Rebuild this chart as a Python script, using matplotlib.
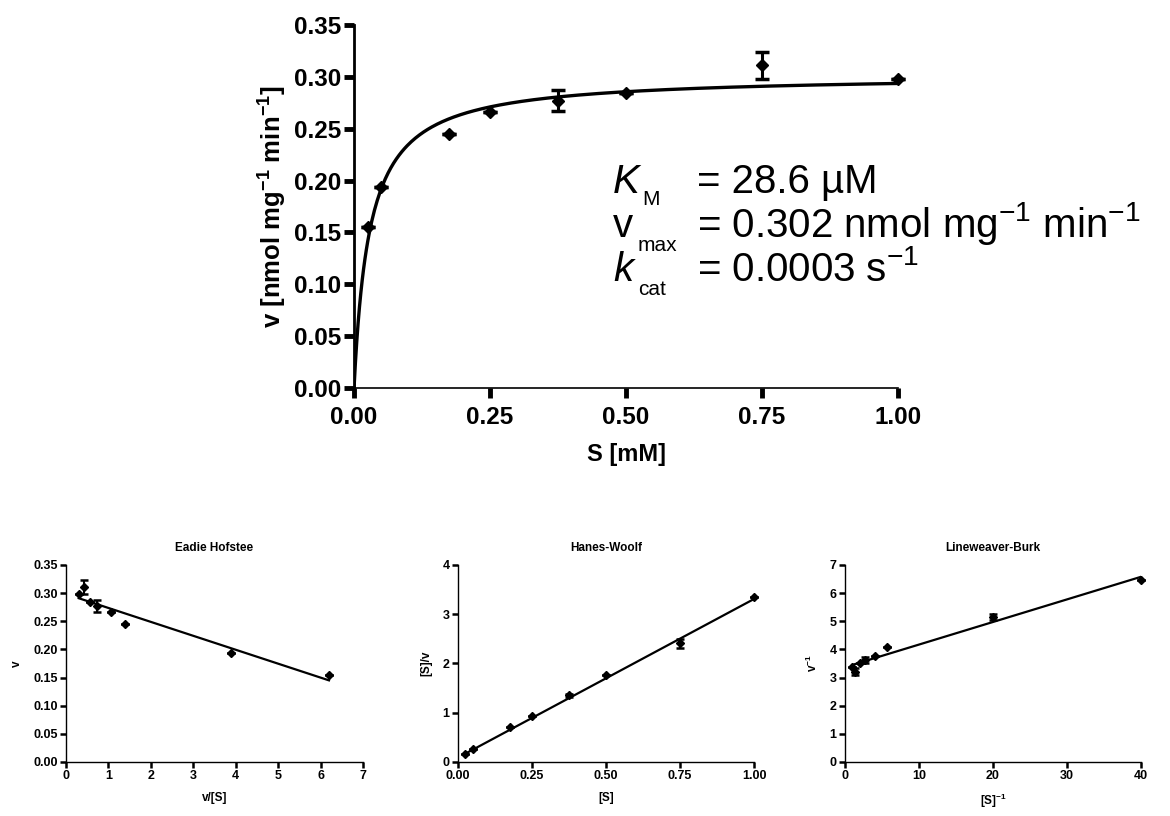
import numpy as np
import matplotlib
matplotlib.use("Agg")
import matplotlib.pyplot as plt

plt.rcParams["font.family"] = ["Liberation Sans", "DejaVu Sans"]
plt.rcParams["mathtext.fontset"] = "custom"
plt.rcParams["mathtext.rm"] = "Liberation Sans"
plt.rcParams["mathtext.it"] = "Liberation Sans:italic"
plt.rcParams["mathtext.bf"] = "Liberation Sans:bold"

# ---- Michaelis-Menten data ----
s_mM = [0.025, 0.05, 0.175, 0.25, 0.375, 0.5, 0.75, 1.0]
v_rate = [0.155, 0.194, 0.245, 0.266, 0.277, 0.284, 0.311, 0.298]
v_err = [0, 0, 0, 0, 0.010, 0, 0.013, 0]
km_mM = 0.0286
vmax = 0.302

# ---- Eadie Hofstee ----
eh_x = [6.2, 3.88, 1.40, 1.06, 0.74, 0.57, 0.415, 0.30]
eh_y = [0.155, 0.194, 0.245, 0.266, 0.277, 0.284, 0.311, 0.298]
eh_err = [0, 0, 0, 0, 0.010, 0, 0.013, 0]
eh_fit_x = [0.30, 6.2]
eh_fit_y = [0.291, 0.145]

# ---- Hanes-Woolf ----
hw_x = [0.025, 0.05, 0.175, 0.25, 0.375, 0.5, 0.75, 1.0]
hw_y = [0.16, 0.26, 0.71, 0.94, 1.35, 1.76, 2.41, 3.36]
hw_err = [0, 0, 0, 0, 0.04, 0, 0.09, 0]
hw_fit_x = [0.025, 1.0]
hw_fit_y = [0.17, 3.31]

# ---- Lineweaver-Burk ----
lb_x = [40, 20, 5.71, 4, 2.67, 2, 1.33, 1]
lb_y = [6.47, 5.15, 4.08, 3.76, 3.62, 3.52, 3.21, 3.36]
lb_err = [0, 0.12, 0, 0, 0.12, 0, 0.12, 0]
lb_fit_x = [1, 40]
lb_fit_y = [3.45, 6.58]

fig = plt.figure(figsize=(11.7, 8.16), dpi=100)

# ===================== main plot =====================
ax = fig.add_axes([0.3026, 0.5245, 0.465, 0.4449])
s_fit = np.linspace(0, 1.0, 400)
ax.plot(s_fit, vmax * s_fit / (km_mM + s_fit), color="black", lw=2.4, zorder=2)
ax.errorbar(s_mM, v_rate, yerr=v_err, fmt="D", color="black", ms=6.3,
            capsize=5, elinewidth=2.2, capthick=2.5, zorder=3, clip_on=False)
ax.set_xlim(0, 1.0)
ax.set_ylim(0, 0.35)
ax.set_xticks([0, 0.25, 0.5, 0.75, 1.0])
ax.set_yticks(np.arange(0, 0.36, 0.05))
ax.xaxis.set_major_formatter(matplotlib.ticker.FormatStrFormatter("%.2f"))
ax.yaxis.set_major_formatter(matplotlib.ticker.FormatStrFormatter("%.2f"))
for sp in ["top", "right"]:
    ax.spines[sp].set_visible(False)
ax.spines["left"].set_linewidth(2.0)
ax.spines["bottom"].set_linewidth(1.2)
ax.tick_params(axis="both", length=7, width=3.5, labelsize=17.5)
ax.tick_params(axis="x", pad=6)
ax.tick_params(axis="y", pad=2)
for lab in ax.get_xticklabels() + ax.get_yticklabels():
    lab.set_fontweight("bold")
ax.set_xlabel("S [mM]", fontsize=17, fontweight="bold", labelpad=10)
ax.set_ylabel(r"v [nmol mg$^{\mathbf{-1}}$ min$^{\mathbf{-1}}$]", fontsize=18.5,
              fontweight="bold", labelpad=4)

# kinetic constants: symbol, subscript, value
big = dict(transform=fig.transFigure, fontsize=29, va="baseline", ha="left")
sub = dict(transform=fig.transFigure, fontsize=15, va="baseline", ha="left")
rows_y = [0.763, 0.709, 0.656]
fig.text(0.524, rows_y[0], "K", fontstyle="italic", **big)
fig.text(0.549, rows_y[0] - 0.014, "M", **sub)
fig.text(0.596, rows_y[0], "= 28.6 µM", **big)
fig.text(0.524, rows_y[1], "v", **big)
fig.text(0.545, rows_y[1] - 0.017, "max", **sub)
fig.text(0.596, rows_y[1], r"= 0.302 nmol mg$^{-1}$ min$^{-1}$", **big)
fig.text(0.524, rows_y[2], "k", fontstyle="italic", **big)
fig.text(0.545, rows_y[2] - 0.017, "cat", **sub)
fig.text(0.596, rows_y[2], r"= 0.0003 s$^{-1}$", **big)


def small_panel(rect, x, y, err, fx, fy, xlim, ylim, xticks, yticks, title,
                xlabel, ylabel, xfmt=None, yfmt=None):
    a = fig.add_axes(rect)
    a.plot(fx, fy, color="black", lw=1.6, zorder=2)
    a.errorbar(x, y, yerr=err, fmt="D", color="black", ms=4.2, capsize=3,
               elinewidth=1.5, capthick=1.8, zorder=3, clip_on=False)
    a.set_xlim(*xlim)
    a.set_ylim(*ylim)
    a.set_xticks(xticks)
    a.set_yticks(yticks)
    if xfmt:
        a.xaxis.set_major_formatter(matplotlib.ticker.FormatStrFormatter(xfmt))
    if yfmt:
        a.yaxis.set_major_formatter(matplotlib.ticker.FormatStrFormatter(yfmt))
    for sp in ["top", "right"]:
        a.spines[sp].set_visible(False)
    a.spines["left"].set_linewidth(1.0)
    a.spines["bottom"].set_linewidth(1.0)
    a.tick_params(axis="both", length=4, width=1.8, labelsize=9, pad=2)
    for lab in a.get_xticklabels() + a.get_yticklabels():
        lab.set_fontweight("bold")
    a.set_title(title, fontsize=8.5, fontweight="bold", pad=10)
    a.set_xlabel(xlabel, fontsize=8.5, fontweight="bold", labelpad=7)
    a.set_ylabel(ylabel, fontsize=8.5, fontweight="bold", labelpad=7)
    return a


small_panel([0.0564, 0.0662, 0.2538, 0.2414], eh_x, eh_y, eh_err, eh_fit_x, eh_fit_y,
            (0, 7), (0, 0.35), range(0, 8), np.arange(0, 0.36, 0.05),
            "Eadie Hofstee", "v/[S]", "v", yfmt="%.2f")
small_panel([0.3915, 0.0662, 0.253, 0.2414], hw_x, hw_y, hw_err, hw_fit_x, hw_fit_y,
            (0, 1.0), (0, 4), [0, 0.25, 0.5, 0.75, 1.0], range(0, 5),
            "Hanes-Woolf", "[S]", "[S]/v", xfmt="%.2f")
small_panel([0.7222, 0.0662, 0.253, 0.2414], lb_x, lb_y, lb_err, lb_fit_x, lb_fit_y,
            (0, 40), (0, 7), [0, 10, 20, 30, 40], range(0, 8),
            "Lineweaver-Burk", r"[S]$^{\mathbf{-1}}$", r"v$^{\mathbf{-1}}$")

fig.savefig("out.png", dpi=100)
